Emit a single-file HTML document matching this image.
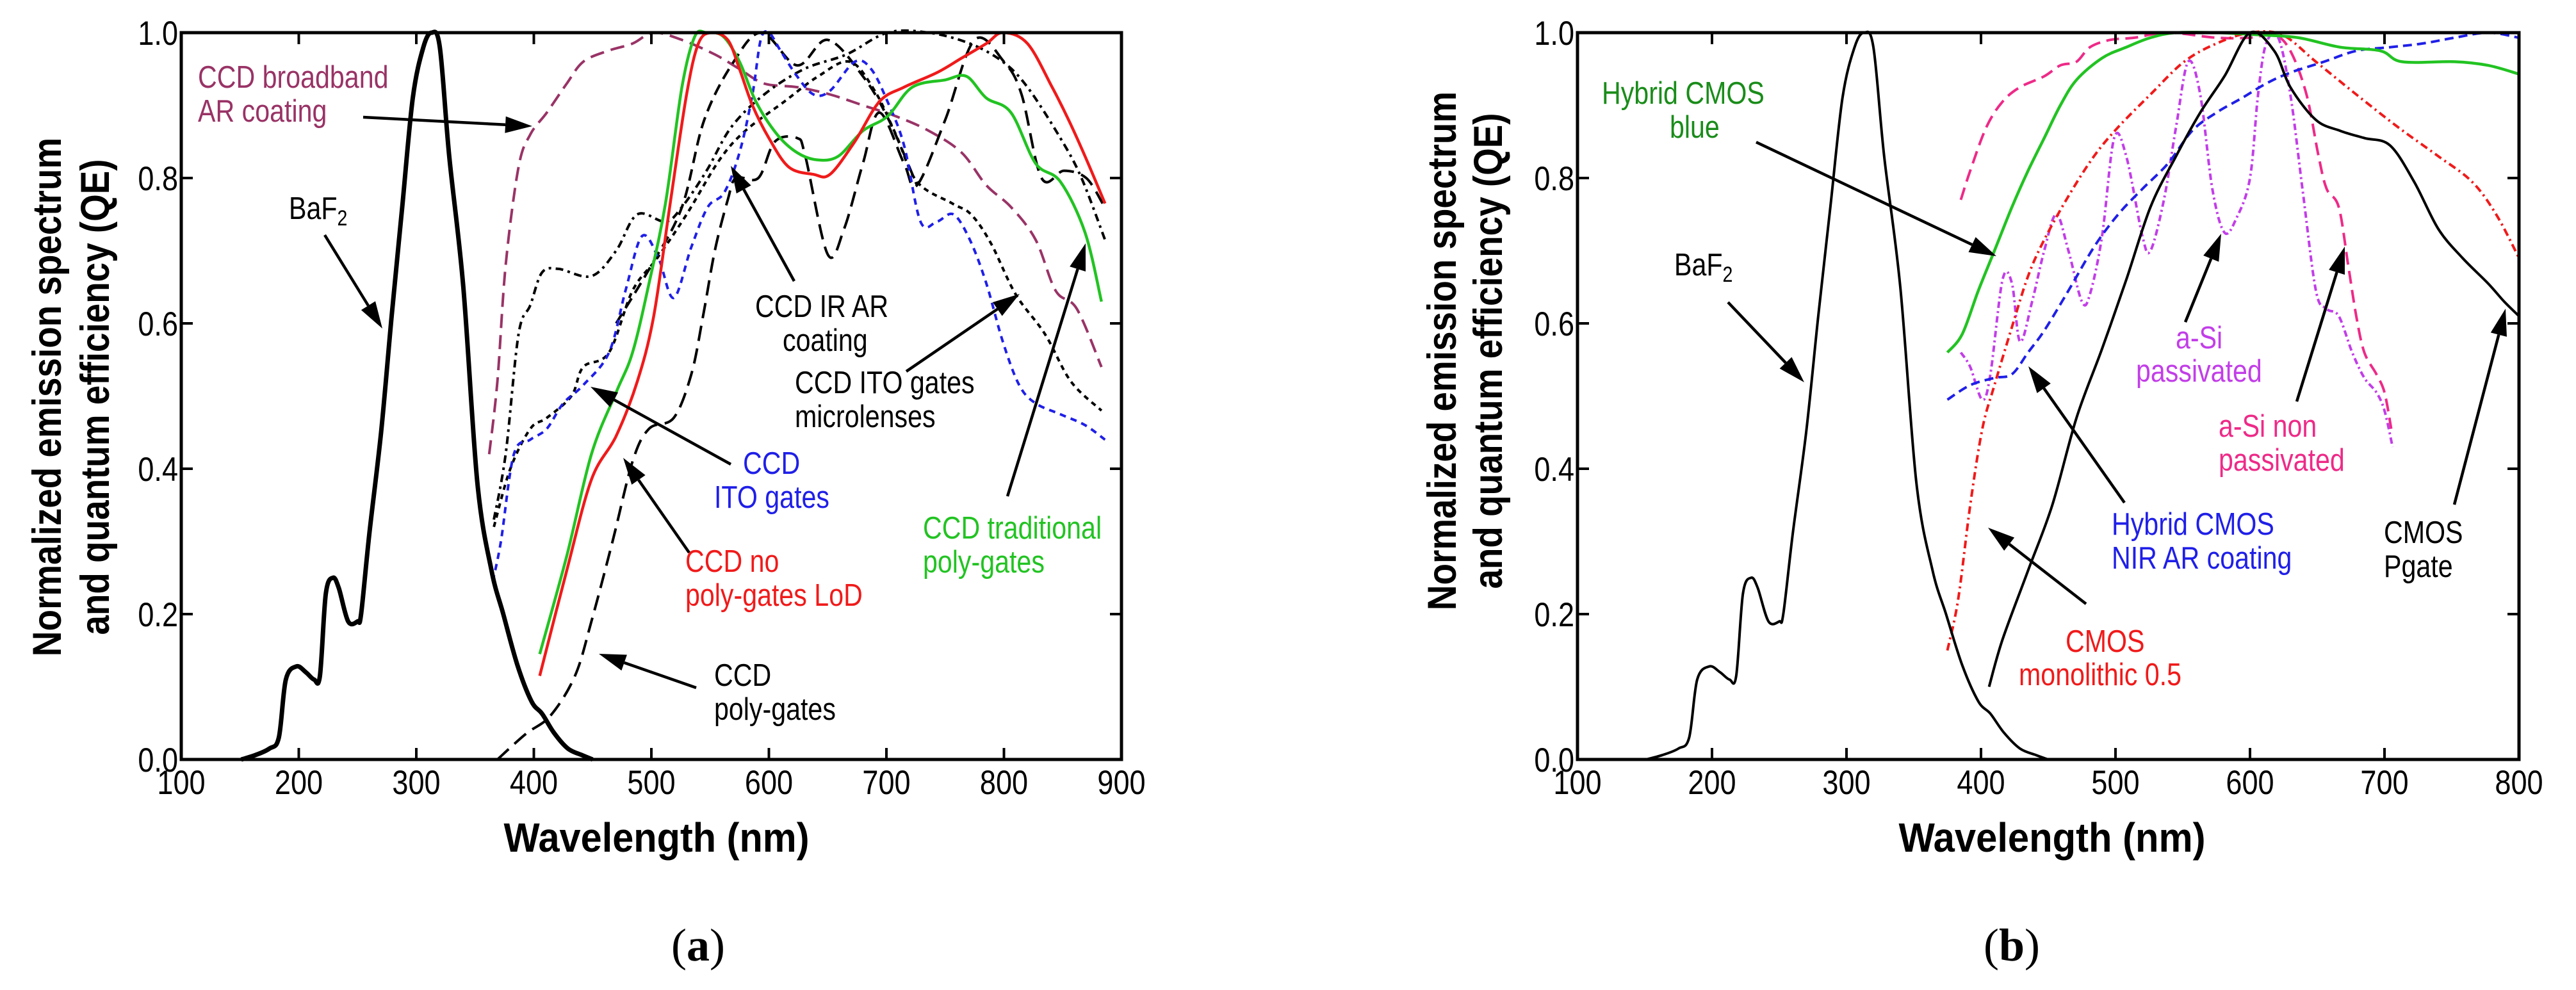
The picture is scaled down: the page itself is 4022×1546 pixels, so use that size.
<!DOCTYPE html>
<html><head><meta charset="utf-8"><style>
html,body{margin:0;padding:0;background:#fff;}
svg{display:block;}
text{font-family:"Liberation Sans",sans-serif;}
</style></head><body>
<svg id="fig" xmlns="http://www.w3.org/2000/svg" width="4022" height="1546" viewBox="0 0 4022 1546">
<rect width="4022" height="1546" fill="#fff"/>
<g id="chartA"></g>
<g id="chartB"></g>
<text x="1090" y="1500" font-size="72" text-anchor="middle" style="font-family:'Liberation Serif',serif">(<tspan font-weight="bold">a</tspan>)</text>
<text x="3141" y="1500" font-size="72" text-anchor="middle" style="font-family:'Liberation Serif',serif">(<tspan font-weight="bold">b</tspan>)</text>
</svg>
<script>
// ---------- data: chart (a) ----------
const baf2WL=[151,163,175,183,189,198,206,213,218,223,229,234,242,250,253,260,270,279,288,297,306,313,320,328,340,352,364,374,386,398,407,417,429,441,450];
const baf2Val=[0,.006,.015,.03,.11,.128,.12,.11,.115,.228,.25,.236,.19,.19,.2,.31,.45,.61,.76,.91,.98,1.0,.98,.83,.65,.38,.26,.2,.13,.08,.063,.037,.015,.006,0];
const broadWL=[362,369,376,387,397,411,428,442,463,484,502,526,554,575,596,624,652,680,708,736,764,785,806,827,844,862,883];
const broadVal=[.42,.52,.68,.815,.86,.89,.93,.96,.975,.985,1.0,.99,.97,.95,.93,.925,.915,.9,.885,.865,.835,.79,.76,.715,.645,.62,.54];
const itoWL=[365,372,383,397,411,425,442,464,478,492,506,519,534,548,562,575,586,593,600,610,624,638,652,673,687,701,715,729,743,757,771,785,799,813,827,848,869,886];
const itoVal=[.245,.3,.42,.44,.455,.49,.515,.56,.645,.72,.69,.635,.705,.76,.78,.835,.915,.99,1.0,.975,.94,.915,.92,.96,.95,.905,.845,.74,.74,.75,.715,.655,.575,.515,.49,.475,.46,.44];
const polyWL=[369,393,414,435,449,467,484,498,519,534,544,554,565,572,591,605,624,631,650,664,680,694,715,726,750,775,800,815,832,851,870,884];
const polyVal=[0,.035,.06,.115,.19,.3,.41,.455,.47,.53,.61,.7,.77,.80,.80,.85,.855,.83,.695,.73,.82,.89,.82,.79,.88,.99,.96,.915,.80,.81,.80,.765];
const irarWL=[470,500,526,545,570,594,624,650,680,702,726];
const irarVal=[.6,.68,.76,.88,.96,1.0,.955,.99,.94,.88,.79];
const microWL=[366,376,387,397,407,421,449,470,488,512,526,547,568,596,630,666,701,736,771,799,820,848,866,886];
const microVal=[.33,.42,.585,.625,.67,.675,.665,.7,.75,.74,.76,.81,.87,.915,.95,.97,1.0,1.0,.985,.96,.925,.855,.8,.715];
const ito2WL=[366,380,397,411,432,442,464,484,505,530,558,580,613,642,669,690,708,726,756,772,789,810,835,857,883];
const ito2Val=[.32,.4,.455,.47,.5,.54,.56,.645,.69,.75,.825,.865,.905,.94,.96,.92,.86,.795,.765,.75,.71,.64,.585,.52,.48];
const redWL=[405,428,449,470,488,502,516,530,540,551,565,575,586,600,617,638,652,673,694,715,743,764,785,799,820,841,855,869,886];
const redVal=[.115,.26,.385,.445,.52,.61,.765,.915,.985,1.0,.99,.95,.9,.855,.815,.805,.805,.85,.905,.925,.945,.965,.985,1.0,.985,.925,.88,.83,.765];
const grnWL=[405,428,449,470,484,498,512,526,537,547,561,575,589,607,624,641,659,680,701,722,750,768,785,806,827,848,869,883];
const grnVal=[.145,.28,.42,.505,.56,.655,.765,.925,.995,1.0,.995,.96,.905,.86,.835,.825,.83,.865,.885,.925,.935,.94,.91,.89,.82,.795,.725,.63];
// ---------- data: chart (b) ----------
const hbWL=[375,386,398,410,423,435,447,459,471,490,508,526,545,575,606,636,667,697,713,752,777,800];
const hbVal=[.56,.585,.645,.7,.76,.81,.855,.9,.935,.965,.98,.993,1.0,1.0,.997,.993,.98,.975,.96,.96,.955,.943];
const nirWL=[375,392,410,423,435,447,465,484,502,520,539,557,575,594,612,630,655,679,704,728,752,777,800];
const nirVal=[.495,.515,.525,.53,.56,.59,.645,.705,.75,.785,.82,.865,.89,.91,.93,.945,.96,.975,.98,.985,.993,1.0,.993];
const monoWL=[375,383,392,401,410,423,435,447,465,484,502,526,551,575,600,624,649,679,710,740,765,783,800];
const monoVal=[.15,.22,.35,.455,.515,.595,.665,.715,.775,.83,.87,.915,.96,.985,1.0,.997,.96,.915,.87,.83,.795,.75,.69];
const npWL=[385,392,404,416,429,447,459,471,481,496,514,539,575,600,618,630,642,651,657,666,673,679,685,694,700,705];
const npVal=[.77,.81,.87,.905,.925,.94,.955,.96,.98,.99,.993,1.0,.993,.993,.997,.975,.915,.83,.785,.76,.68,.61,.56,.53,.505,.455];
const paWL=[385,392,401,407,416,423,429,438,447,456,465,475,481,490,499,508,520,526,536,545,554,563,572,581,590,600,606,612,621,630,639,649,657,666,676,685,694,700,706];
const paVal=[.56,.54,.495,.53,.66,.655,.575,.63,.7,.75,.7,.63,.64,.72,.855,.83,.72,.7,.77,.87,.96,.915,.785,.725,.745,.8,.915,.985,.993,.915,.785,.645,.62,.61,.56,.525,.505,.48,.43];
const pgWL=[406,416,435,453,471,490,508,526,545,563,581,600,618,630,649,667,685,704,722,740,758,777,789,800];
const pgVal=[.1,.165,.26,.35,.47,.565,.66,.76,.83,.89,.94,1.0,.975,.925,.88,.865,.855,.845,.795,.73,.69,.655,.63,.61];
const yTicks=[0,0.2,0.4,0.6,0.8,1.0];
const yTickLabels=["0.0","0.2","0.4","0.6","0.8","1.0"];
const xTicksA=[100,200,300,400,500,600,700,800,900];
const xTicksB=[100,200,300,400,500,600,700,800];

const NS="http://www.w3.org/2000/svg";
function mk(parent,tag,attrs){const e=document.createElementNS(NS,tag);for(const k in attrs)e.setAttribute(k,attrs[k]);parent.appendChild(e);return e;}
function squeeze(t,f){const w=t.getComputedTextLength();t.setAttribute('textLength',(w*f).toFixed(1));t.setAttribute('lengthAdjust','spacingAndGlyphs');}
function smooth(pts){let d=`M${pts[0][0]},${pts[0][1]}`;for(let i=0;i<pts.length-1;i++){const p0=pts[i-1]||pts[i],p1=pts[i],p2=pts[i+1],p3=pts[i+2]||p2;
 const c1=[p1[0]+(p2[0]-p0[0])/6,p1[1]+(p2[1]-p0[1])/6],c2=[p2[0]-(p3[0]-p1[0])/6,p2[1]-(p3[1]-p1[1])/6];
 d+=`C${c1[0].toFixed(1)},${c1[1].toFixed(1)} ${c2[0].toFixed(1)},${c2[1].toFixed(1)} ${p2[0].toFixed(1)},${p2[1].toFixed(1)}`;}return d;}

function makeChart(g,cfg){
 const X=v=>cfg.x0+(v-cfg.xmin)/(cfg.xmax-cfg.xmin)*(cfg.x1-cfg.x0);
 const Y=v=>cfg.y1-v*(cfg.y1-cfg.y0);
 cfg.series.forEach(s=>{
  const pts=s.wl.map((w,i)=>[X(w),Y(s.v[i])]);
  const p=mk(g,'path',{d:smooth(pts),fill:'none',stroke:s.c,'stroke-width':s.w,'stroke-dasharray':s.dash||'none','stroke-linejoin':'round','stroke-linecap':'butt'});
  
  
 });
 const fr=mk(g,'rect',{x:cfg.x0,y:cfg.y0,width:cfg.x1-cfg.x0,height:cfg.y1-cfg.y0,fill:'none',stroke:'#000','stroke-width':5});
 
 
 cfg.xt.forEach(v=>{
  const x=X(v);
  const t1=mk(g,'line',{x1:x,y1:cfg.y1,x2:x,y2:cfg.y1-18,stroke:'#000','stroke-width':4});
  
  
  mk(g,'line',{x1:x,y1:cfg.y0,x2:x,y2:cfg.y0+18,stroke:'#000','stroke-width':4});
  const t=mk(g,'text',{x:x,y:1240,'font-size':53,'text-anchor':'middle'});t.textContent=v;
  
  
  squeeze(t,0.85);
 });
 yTicks.forEach((v,i)=>{
  const y=Y(v);
  const t1=mk(g,'line',{x1:cfg.x0,y1:y,x2:cfg.x0+18,y2:y,stroke:'#000','stroke-width':4});
  
  
  mk(g,'line',{x1:cfg.x1,y1:y,x2:cfg.x1-18,y2:y,stroke:'#000','stroke-width':4});
  const t=mk(g,'text',{x:cfg.x0-5,y:y+19,'font-size':53,'text-anchor':'end'});t.textContent=yTickLabels[i];
  
  
  squeeze(t,0.85);
 });
 const xt=mk(g,'text',{x:(cfg.xtitle),y:1330,'font-size':64,'font-weight':'bold','text-anchor':'middle'});xt.textContent='Wavelength (nm)';
 
 
 xt.setAttribute('textLength',cfg.xtitleLen);xt.setAttribute('lengthAdjust','spacingAndGlyphs');
 [[cfg.yt1,'Normalized emission spectrum'],[cfg.yt2,'and quantum efficiency (QE)']].forEach(([xx,s])=>{
  const t=mk(g,'text',{x:0,y:0,'font-size':63,'font-weight':'bold','text-anchor':'middle',transform:`translate(${xx},${cfg.ytc}) rotate(-90)`});t.textContent=s;
  
  
  squeeze(t,0.87);
 });
 cfg.labels.forEach(l=>{
  l.lines.forEach((s,i)=>{
   const t=mk(g,'text',{x:l.x,y:l.y+i*53,'font-size':49,fill:l.c||'#000'});
   if(s==='BaF2'){t.textContent='BaF';const ts=mk(t,'tspan',{'font-size':34,dy:10});ts.textContent='2';}
   else t.textContent=s;
   
   
   squeeze(t,0.84);
  });
 });
 cfg.arrows.forEach(a=>{
  const [x1,y1,x2,y2]=a;const ang=Math.atan2(y2-y1,x2-x1);const L=42,W=13;
  const bx=x2-L*Math.cos(ang),by=y2-L*Math.sin(ang);
  const ln=mk(g,'line',{x1:x1,y1:y1,x2:bx,y2:by,stroke:'#000','stroke-width':4.5});
  
  
  mk(g,'polygon',{points:`${x2},${y2} ${bx+W*Math.sin(ang)},${by-W*Math.cos(ang)} ${bx-W*Math.sin(ang)},${by+W*Math.cos(ang)}`,fill:'#000'});
 });
}

makeChart(document.getElementById('chartA'),{x0:283,x1:1751,y0:51,y1:1186,xmin:100,xmax:900,xt:xTicksA,
 xtitle:1025,xtitleLen:477,yt1:95,yt2:170,ytc:620,
 series:[
  {name:'ccd-broadband-ar-line',wl:broadWL,v:broadVal,c:'#993366',w:4,dash:'22,11'},
  {name:'ccd-poly-gates-line',wl:polyWL,v:polyVal,c:'#000',w:4,dash:'24,12'},
  {name:'ccd-ir-ar-line',wl:irarWL,v:irarVal,c:'#000',w:4,dash:'18,10'},
  {name:'ccd-ito-microlenses-line',wl:microWL,v:microVal,c:'#000',w:4,dash:'12,7,4,7'},
  {name:'ccd-ito-line-2',wl:ito2WL,v:ito2Val,c:'#000',w:4,dash:'8,7'},
  {name:'ccd-ito-gates-line',wl:itoWL,v:itoVal,c:'#1f1fe8',w:4,dash:'10,8'},
  {name:'ccd-traditional-line',wl:grnWL,v:grnVal,c:'#22c322',w:4.5},
  {name:'ccd-no-poly-line',wl:redWL,v:redVal,c:'#f01a1a',w:4.5},
  {name:'baf2-line',wl:baf2WL,v:baf2Val,c:'#000',w:7}],
 labels:[
  {x:309,y:137,lines:['CCD broadband','AR coating'],c:'#993366'},
  {x:451,y:342,lines:['BaF2']},
  {x:1179,y:495,lines:['CCD IR AR']},{x:1222,y:548,lines:['coating']},
  {x:1241,y:614,lines:['CCD ITO gates','microlenses']},
  {x:1160,y:740,lines:['CCD'],c:'#1f1fe8'},{x:1115,y:793,lines:['ITO gates'],c:'#1f1fe8'},
  {x:1070,y:893,lines:['CCD no','poly-gates LoD'],c:'#f01a1a'},
  {x:1441,y:841,lines:['CCD traditional','poly-gates'],c:'#22c322'},
  {x:1115,y:1071,lines:['CCD','poly-gates']}],
 arrows:[[567,183,831,197],[507,367,597,513],[1240,439,1141,259],[1415,580,1592,459],[1141,725,922,604],[1076,863,973,715],[1573,775,1695,380],[1087,1074,935,1021]]
});
makeChart(document.getElementById('chartB'),{x0:2463,x1:3933,y0:51,y1:1186,xmin:100,xmax:800,xt:xTicksB,
 xtitle:3204,xtitleLen:479,yt1:2273,yt2:2345,ytc:548,
 series:[
  {name:'a-si-non-passivated-line',wl:npWL,v:npVal,c:'#ee2a88',w:4,dash:'20,10'},
  {name:'a-si-passivated-line',wl:paWL,v:paVal,c:'#c23ee8',w:4,dash:'10,5,3,5'},
  {name:'hybrid-cmos-nir-line',wl:nirWL,v:nirVal,c:'#1f1fe8',w:4,dash:'14,8'},
  {name:'cmos-monolithic-line',wl:monoWL,v:monoVal,c:'#f01a1a',w:4,dash:'12,6,3,6'},
  {name:'hybrid-cmos-blue-line',wl:hbWL,v:hbVal,c:'#22c322',w:4.5},
  {name:'cmos-pgate-line',wl:pgWL,v:pgVal,c:'#000',w:4},
  {name:'baf2-line-b',wl:baf2WL,v:baf2Val,c:'#000',w:4}],
 labels:[
  {x:2501,y:162,lines:['Hybrid CMOS'],c:'#1a8c1a'},{x:2607,y:215,lines:['blue'],c:'#1a8c1a'},
  {x:2614,y:430,lines:['BaF2']},
  {x:3397,y:544,lines:['a-Si'],c:'#c23ee8'},{x:3335,y:596,lines:['passivated'],c:'#c23ee8'},
  {x:3464,y:682,lines:['a-Si non','passivated'],c:'#ee2a88'},
  {x:3297,y:835,lines:['Hybrid CMOS','NIR AR coating'],c:'#1f1fe8'},
  {x:3722,y:848,lines:['CMOS','Pgate']},
  {x:3225,y:1018,lines:['CMOS'],c:'#f01a1a'},{x:3152,y:1070,lines:['monolithic 0.5'],c:'#f01a1a'}],
 arrows:[[2742,222,3117,400],[2698,472,2817,597],[3412,503,3468,365],[3586,627,3661,385],[3317,785,3167,572],[3832,788,3912,482],[3257,943,3104,824]]
});
</script>
</body></html>
